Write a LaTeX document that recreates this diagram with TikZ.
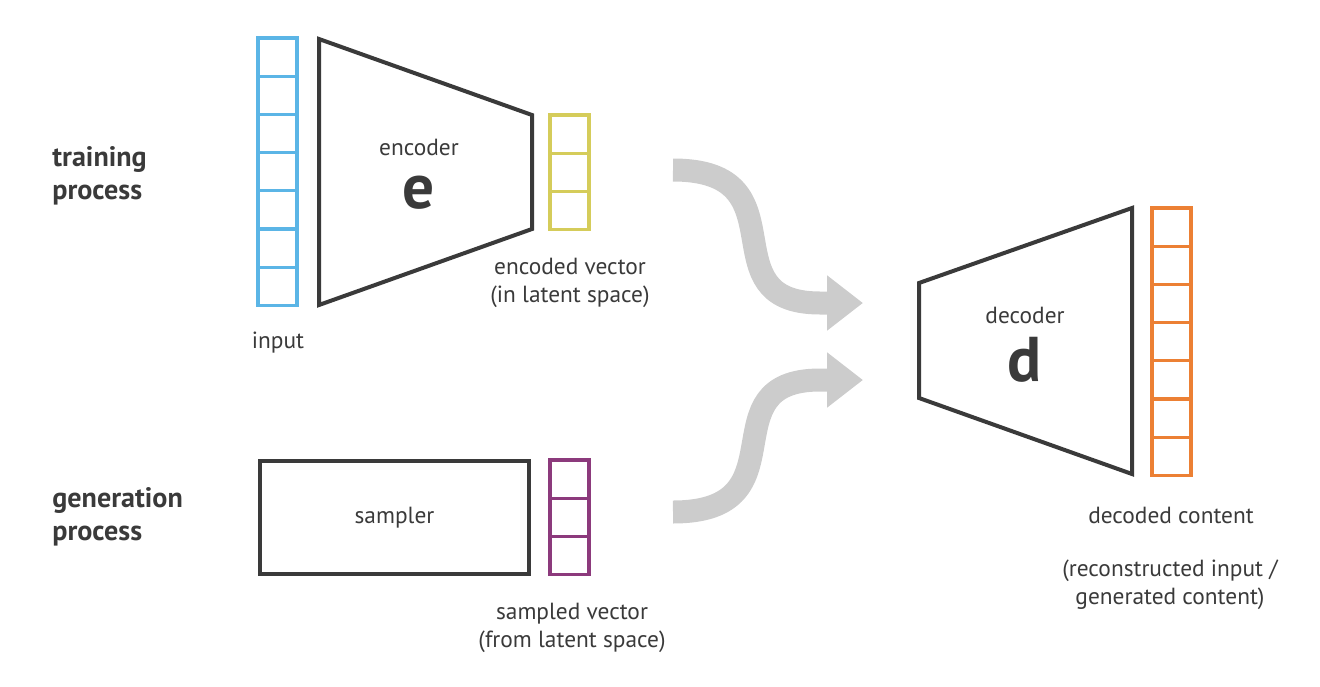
\documentclass[tikz,border=0pt]{standalone}
\usepackage{fontspec}
\setmainfont{PT Sans}
\usetikzlibrary{arrows.meta}
\definecolor{inkgray}{HTML}{3A3A3A}
\definecolor{flowgray}{HTML}{CCCCCC}
\definecolor{inputblue}{HTML}{5BB5E6}
\definecolor{latentyellow}{HTML}{D5CC5A}
\definecolor{samplepurple}{HTML}{8C3A7C}
\definecolor{outputorange}{HTML}{EC8034}
\tikzstyle{block}=[draw=inkgray,line width=0.08cm,line join=miter]
\tikzstyle{cell}=[line width=0.065cm]
\tikzstyle{caption}=[text=inkgray,font=\fontsize{13.3}{15.8}\selectfont,align=center,inner sep=0pt]
\tikzstyle{heading}=[text=inkgray,font=\bfseries\fontsize{16}{19}\selectfont,align=left,anchor=west,inner sep=0pt]
\tikzstyle{symbol}=[text=inkgray,font=\bfseries\fontsize{36}{36}\selectfont,inner sep=0pt]
\tikzstyle{flow}=[draw=flowgray,line width=0.46cm,-{Triangle[length=0.72cm,width=1.06cm]}]
\newcommand{\drawvector}[5]{% name, left x, top y, number of cells, colour
\foreach \i in {1,...,#4} {
  \draw[cell,draw=#5] (#2,{#3+(\i-1)*38.2}) rectangle ++(39,38.2);
}
\coordinate (#1) at ({#2+19.5},{#3+#4*38.2}); % bottom centre
}

\begin{document}
\begin{tikzpicture}[x=0.02cm,y=-0.02cm]
	\useasboundingbox (0,0) rectangle (1320,687);
	% training process
	\node[heading] (trainlbl) at (52,176) {training\\process};
	\drawvector{input}{258}{38}{7}{inputblue}
	\coordinate (enc-tl) at (319,39);
	\coordinate (enc-tr) at (532,115);
	\coordinate (enc-br) at (532,229);
	\coordinate (enc-bl) at (319,305);
	\draw[block] (enc-tl) -- (enc-tr) -- (enc-br) -- (enc-bl) -- cycle;
	\node[caption] (enctext) at (419,147) {encoder};
	\node[symbol] (encsym) at (419,193) {e};
	\drawvector{encoded}{550}{115}{3}{latentyellow}
	\node[caption] (inputlbl) at (278,343) {input};
	\node[caption] (encodedlbl) at (570,283) {encoded vector\\(in latent space)};
	% generation process
	\node[heading] (genlbl) at (52,517) {generation\\process};
	\node[block,caption,minimum width=5.4cm,minimum height=2.26cm] (sampler) at (394.5,517.5) {sampler};
	\drawvector{sampled}{550}{460}{3}{samplepurple}
	\node[caption] (sampledlbl) at (572,628) {sampled vector\\(from latent space)};
	% decoder
	\coordinate (dec-tl) at (919,283);
	\coordinate (dec-tr) at (1132,208);
	\coordinate (dec-br) at (1132,474);
	\coordinate (dec-bl) at (919,398);
	\draw[block] (dec-tl) -- (dec-tr) -- (dec-br) -- (dec-bl) -- cycle;
	\node[caption] (dectext) at (1025,315) {decoder};
	\node[symbol] (decsym) at (1025,360) {d};
	\drawvector{decoded}{1152}{208}{7}{outputorange}
	\node[caption] (decodedlbl) at (1171,515) {decoded content};
	\node[caption] (notelbl) at (1170,585) {(reconstructed input /\\generated content)};
	% flows into the decoder
	\coordinate (top-start) at (673,170);
	\coordinate (top-end) at (863,303);
	\coordinate (bot-start) at (673,512);
	\coordinate (bot-end) at (863,380);
	\draw[flow] (top-start) .. controls (805,170) and (705,303) .. (820,303) -- (top-end);
	\draw[flow] (bot-start) .. controls (805,512) and (705,380) .. (820,380) -- (bot-end);
\end{tikzpicture}
\end{document}
